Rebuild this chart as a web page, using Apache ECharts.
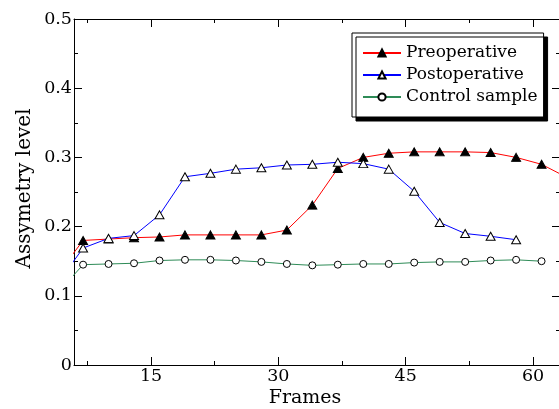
<!DOCTYPE html>
<html>
<head>
<meta charset="utf-8">
<script src="https://cdn.jsdelivr.net/npm/echarts@6/dist/echarts.min.js"></script>
<style>
  html, body { margin: 0; padding: 0; background: #fff; }
  #chart { width: 559px; height: 409px; }
</style>
</head>
<body>
<div id="chart"></div>
<script>
  // frames (first and last points sit just outside the visible axis range)
  var frames = [4, 7, 10, 13, 16, 19, 22, 25, 28, 31, 34, 37, 40, 43, 46, 49, 52, 55, 58, 61, 64]
  var preoperative = [0.131, 0.180, 0.182, 0.184, 0.185, 0.188, 0.188, 0.188, 0.188, 0.195, 0.231,
    0.284, 0.300, 0.306, 0.308, 0.308, 0.308, 0.307, 0.300, 0.290, 0.271]
  var postoperative = [0.118, 0.169, 0.183, 0.187, 0.217, 0.272, 0.277, 0.283, 0.285, 0.289, 0.290,
    0.293, 0.291, 0.283, 0.251, 0.206, 0.190, 0.186, 0.181]
  var control = [0.104, 0.145, 0.146, 0.147, 0.151, 0.152, 0.152, 0.151, 0.149, 0.146, 0.144,
    0.145, 0.146, 0.146, 0.148, 0.149, 0.149, 0.151, 0.152, 0.150]
  var xMajor = [15, 30, 45, 60]
  var xMinor = [7.5, 22.5, 37.5, 52.5]

  function pairs(ys) {
    return ys.map(function (y, i) { return [frames[i], y] })
  }

  var serif = 'DejaVu Serif'
  var xMin = 5.93
  var xMax = 63.17

  function xAxis(pos, ticks, len, withLabel) {
    return {
      type: 'value',
      position: pos,
      min: xMin,
      max: xMax,
      axisLine: { show: len === 8, lineStyle: { color: '#000', width: 1 } },
      axisTick: { show: true, inside: true, length: len, customValues: ticks, lineStyle: { color: '#000' } },
      axisLabel: withLabel ? {
        show: true, customValues: ticks, margin: 2,
        color: '#000', fontFamily: serif, fontSize: 17.5
      } : { show: false },
      splitLine: { show: false }
    }
  }

  function yAxis(pos, withLabel) {
    return {
      type: 'value',
      position: pos,
      min: 0,
      max: 0.5,
      interval: 0.1,
      axisLine: { show: true, lineStyle: { color: '#000', width: 1 } },
      axisTick: { show: true, inside: true, length: 8, lineStyle: { color: '#000' } },
      minorTick: { show: true, splitNumber: 2, length: 4, lineStyle: { color: '#000' } },
      axisLabel: withLabel ? {
        show: true, margin: 2, color: '#000', fontFamily: serif, fontSize: 17.5
      } : { show: false },
      splitLine: { show: false },
      minorSplitLine: { show: false }
    }
  }

  var xBottom = xAxis('bottom', xMajor, 8, true)
  xBottom.name = 'Frames'
  xBottom.nameLocation = 'middle'
  xBottom.nameGap = 24
  xBottom.nameMoveOverlap = false
  xBottom.nameTextStyle = { color: '#000', fontFamily: serif, fontSize: 19, padding: [0, 24, 0, 0] }

  var yLeft = yAxis('left', true)
  yLeft.name = 'Assymetry level'
  yLeft.nameLocation = 'middle'
  yLeft.nameGap = 39
  yLeft.nameMoveOverlap = false
  yLeft.nameTextStyle = { color: '#000', fontFamily: serif, fontSize: 20, padding: [0, 0, 0, 7] }

  var chart = echarts.init(document.getElementById('chart'))
  chart.setOption({
    animation: false,
    backgroundColor: '#fff',
    grid: { left: 74, top: 19, width: 486, height: 346, outerBoundsMode: 'none' },
    xAxis: [
      xBottom,
      xAxis('bottom', xMinor, 4, false),
      xAxis('top', xMajor, 8, false),
      xAxis('top', xMinor, 4, false)
    ],
    yAxis: [yLeft, yAxis('right', false)],
    legend: {
      orient: 'vertical',
      left: 352,
      top: 33,
      padding: [9, 6, 9, 10],
      itemWidth: 38,
      itemHeight: 9,
      itemGap: 0,
      backgroundColor: '#fff',
      borderColor: '#000',
      borderWidth: 1,
      borderRadius: 0,
      shadowColor: '#000',
      shadowBlur: 0,
      shadowOffsetX: 4,
      shadowOffsetY: 4,
      textStyle: { color: '#000', fontFamily: serif, fontSize: 17, lineHeight: 22 },
      data: ['Preoperative', 'Postoperative', 'Control sample']
    },
    series: [
      {
        name: 'Preoperative',
        type: 'line',
        data: pairs(preoperative),
        showAllSymbol: true,
        symbol: 'triangle',
        symbolSize: [9, 8],
        lineStyle: { color: '#ff0000', width: 1 },
        itemStyle: { color: '#000', borderColor: '#000', borderWidth: 1 }
      },
      {
        name: 'Postoperative',
        type: 'line',
        data: pairs(postoperative),
        showAllSymbol: true,
        symbol: 'triangle',
        symbolSize: [9, 8],
        lineStyle: { color: '#0000ff', width: 1 },
        itemStyle: { color: '#fff', borderColor: '#000', borderWidth: 1 }
      },
      {
        name: 'Control sample',
        type: 'line',
        data: pairs(control),
        showAllSymbol: true,
        symbol: 'circle',
        symbolSize: 7,
        lineStyle: { color: '#2e8b57', width: 1 },
        itemStyle: { color: '#fff', borderColor: '#000', borderWidth: 1 }
      }
    ]
  })
</script>
</body>
</html>
